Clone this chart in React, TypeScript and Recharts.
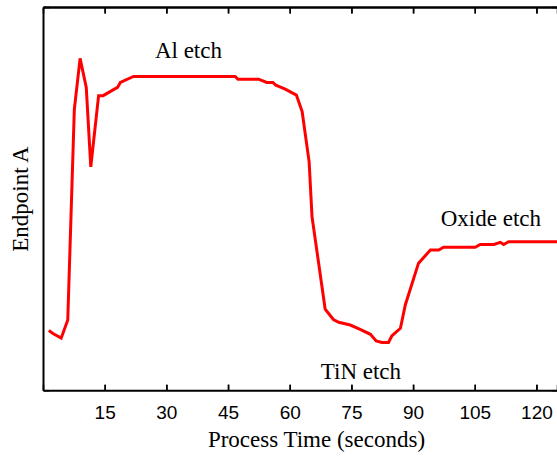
import { LineChart, Line, XAxis, YAxis, CartesianGrid, ReferenceDot, ReferenceLine, Label } from 'recharts'

// process time (s) and endpoint signal
const times = [
  1.3, 2.4, 4.3, 5.9, 7.5, 8.9, 10.4, 11.5, 13.4, 14.5, 18.0, 18.7, 21.9, 46.6, 47.3, 52.3,
  54.3, 55.8, 56.5, 58.8, 61.5, 62.9, 64.6, 65.3, 68.5, 70.5, 71.8, 74.6, 77.0, 79.5, 80.9,
  82.3, 83.9, 84.7, 86.8, 88.0, 91.2, 94.1, 96.1, 97.3, 105.0, 106.2, 109.5, 111.1, 111.9,
  113.1, 125,
]
const endpoint = [
  1.10, 1.04, 0.96, 1.29, 5.14, 6.07, 5.54, 4.09, 5.39, 5.39, 5.54, 5.63, 5.74, 5.74, 5.69, 5.69,
  5.63, 5.63, 5.58, 5.51, 5.40, 5.10, 4.18, 3.18, 1.49, 1.30, 1.25, 1.20, 1.12, 1.03, 0.91,
  0.88, 0.88, 1.00, 1.14, 1.57, 2.33, 2.57, 2.57, 2.62, 2.62, 2.67, 2.67, 2.71, 2.67,
  2.72, 2.72,
]

const xTicks = [15, 30, 45, 60, 75, 90, 105, 120]
const yTicks = [1, 2, 3, 4, 5, 6]
const yMax = 7

const stageNames = ['Al etch', 'TiN etch', 'Oxide etch']
const stageX = [35.25, 77.2, 108.8]
const stageY = [6.22, 0.36, 3.15]

const data = times.map((t, i) => ({ t, value: endpoint[i] }))

const serif = '"Liberation Serif", "Times New Roman", serif'
const sans = '"Liberation Sans", Arial, sans-serif'
const TICK = 6
const INK = '#000'

// grid lines are replaced by short inward stubs at each end (gnuplot-style mirrored ticks)
const GridV = (p: any) => {
  const top = Math.min(p.y1, p.y2)
  const bot = Math.max(p.y1, p.y2)
  return (
    <g key={p.key}>
      <line x1={p.x1} y1={top} x2={p.x1} y2={top + TICK} stroke={INK} strokeWidth={1.5} />
      <line x1={p.x1} y1={bot} x2={p.x1} y2={bot - TICK} stroke={INK} strokeWidth={1.5} />
    </g>
  )
}
const GridH = (p: any) => {
  const left = Math.min(p.x1, p.x2)
  const right = Math.max(p.x1, p.x2)
  const isTop = typeof p.y === 'number' && Math.abs(p.y1 - p.y) < 0.5
  return (
    <g key={p.key}>
      {isTop && <line x1={left} y1={p.y1} x2={right} y2={p.y1} stroke={INK} strokeWidth={2} />}
      <line x1={left} y1={p.y1} x2={left + TICK} y2={p.y1} stroke={INK} strokeWidth={1.5} />
      <line x1={right} y1={p.y1} x2={right - TICK} y2={p.y1} stroke={INK} strokeWidth={1.5} />
    </g>
  )
}
const VTicks = (p: any) => {
  const top = Math.min(p.y1, p.y2)
  const bot = Math.max(p.y1, p.y2)
  return (
    <g>
      <line x1={p.x1} y1={top} x2={p.x1} y2={top + TICK} stroke={INK} strokeWidth={1.5} />
      <line x1={p.x1} y1={bot} x2={p.x1} y2={bot - TICK} stroke={INK} strokeWidth={1.5} />
    </g>
  )
}

export default function App() {
  return (
    <div style={{ position: 'absolute', left: 0, top: 0, width: 557, height: 456, overflow: 'hidden', background: '#fff' }}>
      <LineChart width={560} height={456} data={data} margin={{ top: 7.5, right: 2.5, bottom: 0, left: 0 }}>
        <CartesianGrid vertical={GridV} horizontal={GridH} />
        <XAxis
          dataKey="t"
          type="number"
          domain={[0, 125]}
          ticks={xTicks}
          allowDataOverflow
          height={65.3}
          tickSize={0}
          tickMargin={15}
          axisLine={{ stroke: INK, strokeWidth: 2 }}
          tickLine={false}
          tick={{ fill: INK, fontSize: 19, fontFamily: sans }}
        >
          <Label
            value="Process Time (seconds)"
            position="insideBottom"
            offset={9.3}
            dx={16}
            style={{ fill: INK, fontSize: 23, fontFamily: serif }}
          />
        </XAxis>
        <YAxis
          type="number"
          domain={[0, yMax]}
          ticks={yTicks}
          allowDataOverflow
          width={43.5}
          tick={false}
          tickLine={false}
          axisLine={{ stroke: INK, strokeWidth: 2 }}
        >
          <Label
            content={(props: any) => {
              const vb = props.viewBox
              const bx = vb.x + vb.width - 15.8
              const cy = vb.y + vb.height / 2
              return (
                <text
                  x={bx}
                  y={cy}
                  transform={`rotate(-90 ${bx} ${cy})`}
                  textAnchor="middle"
                  fill={INK}
                  fontSize={23}
                  fontFamily={serif}
                >
                  Endpoint A
                </text>
              )
            }}
          />
        </YAxis>
        <ReferenceLine y={yMax} ifOverflow="visible" stroke={INK} strokeWidth={2} />
        {xTicks.map((t) => (
          <ReferenceLine key={'x' + t} x={t} ifOverflow="visible" shape={VTicks} />
        ))}
        <Line
          type="linear"
          dataKey="value"
          stroke="#ff0000"
          strokeWidth={3}
          dot={false}
          isAnimationActive={false}
        />
        {stageNames.map((name, i) => (
          <ReferenceDot
            key={name}
            x={stageX[i]}
            y={stageY[i]}
            r={0}
            fill="none"
            stroke="none"
            label={{ value: name, position: 'center', fill: INK, fontSize: 23, fontFamily: serif }}
          />
        ))}
      </LineChart>
    </div>
  )
}
